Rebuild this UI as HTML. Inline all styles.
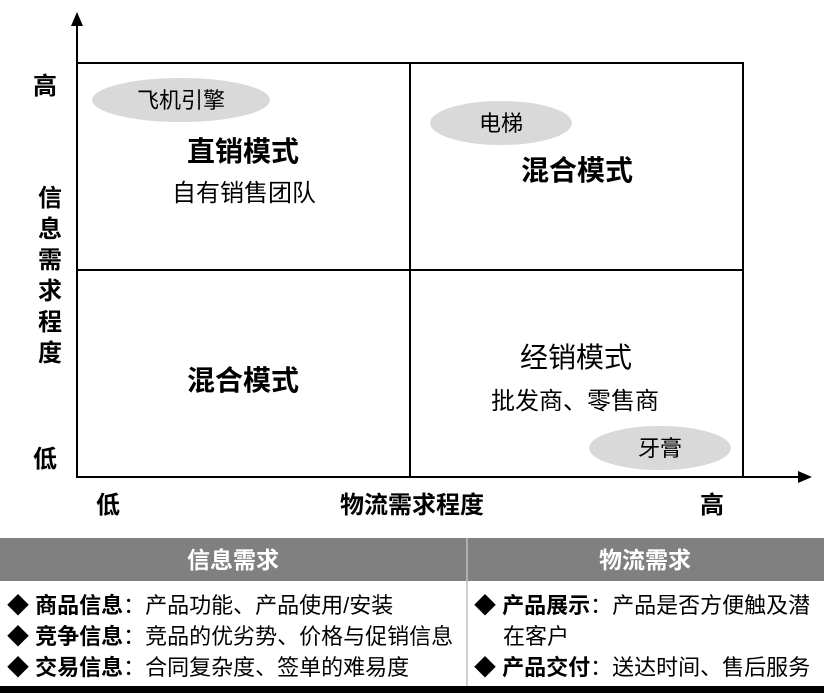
<!DOCTYPE html>
<html><head><meta charset="utf-8"><style>
body{margin:0;background:#fff;width:824px;height:693px;overflow:hidden}
svg text{font-family:"Liberation Sans","Noto Sans CJK SC",sans-serif;fill:#000}
.b{font-weight:bold}
</style></head><body>
<svg width="824" height="693" viewBox="0 0 824 693" xmlns="http://www.w3.org/2000/svg">
<ellipse cx="181" cy="100" rx="89" ry="22" fill="#d9d9d9"/>
<ellipse cx="501" cy="123" rx="71" ry="22" fill="#d9d9d9"/>
<ellipse cx="660" cy="448" rx="71" ry="22" fill="#d9d9d9"/>
<rect x="77" y="63" width="666" height="414" fill="none" stroke="#000" stroke-width="2"/>
<line x1="410" y1="63" x2="410" y2="477" stroke="#000" stroke-width="2"/>
<line x1="77" y1="270" x2="743" y2="270" stroke="#000" stroke-width="2"/>
<line x1="77" y1="477" x2="77" y2="24" stroke="#000" stroke-width="2"/>
<polygon points="77,12 71,26 83,26" fill="#000"/>
<line x1="77" y1="477" x2="800" y2="477" stroke="#000" stroke-width="2"/>
<polygon points="812,477 798,471 798,483" fill="#000"/>
<g font-size="22" text-anchor="middle">
<text x="181" y="108">飞机引擎</text>
<text x="501" y="131">电梯</text>
<text x="660" y="456">牙膏</text>
</g>
<g font-size="24" text-anchor="middle">
<text x="244" y="201">自有销售团队</text>
<text x="575" y="409">批发商、零售商</text>
</g>
<g font-size="28" text-anchor="middle">
<text x="243" y="161" class="b">直销模式</text>
<text x="577" y="180" class="b">混合模式</text>
<text x="243" y="390" class="b">混合模式</text>
<text x="576" y="367">经销模式</text>
</g>
<g font-size="24" text-anchor="middle" class="b">
<text x="45" y="94">高</text>
<text x="50" y="206">信</text>
<text x="50" y="237">息</text>
<text x="50" y="268">需</text>
<text x="50" y="299">求</text>
<text x="50" y="330">程</text>
<text x="50" y="361">度</text>
<text x="45" y="467">低</text>
<text x="108" y="513">低</text>
<text x="412" y="513">物流需求程度</text>
<text x="712" y="513">高</text>
</g>
<rect x="0" y="538" width="824" height="43" fill="#808080"/>
<line x1="467" y1="538" x2="467" y2="687" stroke="#bfbfbf" stroke-width="1.5"/>
<rect x="0" y="686" width="824" height="7" fill="#000"/>
<g font-size="23" text-anchor="middle" class="b">
<text x="233" y="568" style="fill:#fff">信息需求</text>
<text x="645" y="568" style="fill:#fff">物流需求</text>
</g>
<g font-size="22">
<text x="7" y="613"><tspan class="b">◆ 商品信息</tspan>：产品功能、产品使用/安装</text>
<text x="7" y="644"><tspan class="b">◆ 竞争信息</tspan>：竞品的优劣势、价格与促销信息</text>
<text x="7" y="675"><tspan class="b">◆ 交易信息</tspan>：合同复杂度、签单的难易度</text>
<text x="474" y="613"><tspan class="b">◆ 产品展示</tspan>：产品是否方便触及潜</text>
<text x="503" y="644">在客户</text>
<text x="474" y="675"><tspan class="b">◆ 产品交付</tspan>：送达时间、售后服务</text>
</g>
</svg>
</body></html>
